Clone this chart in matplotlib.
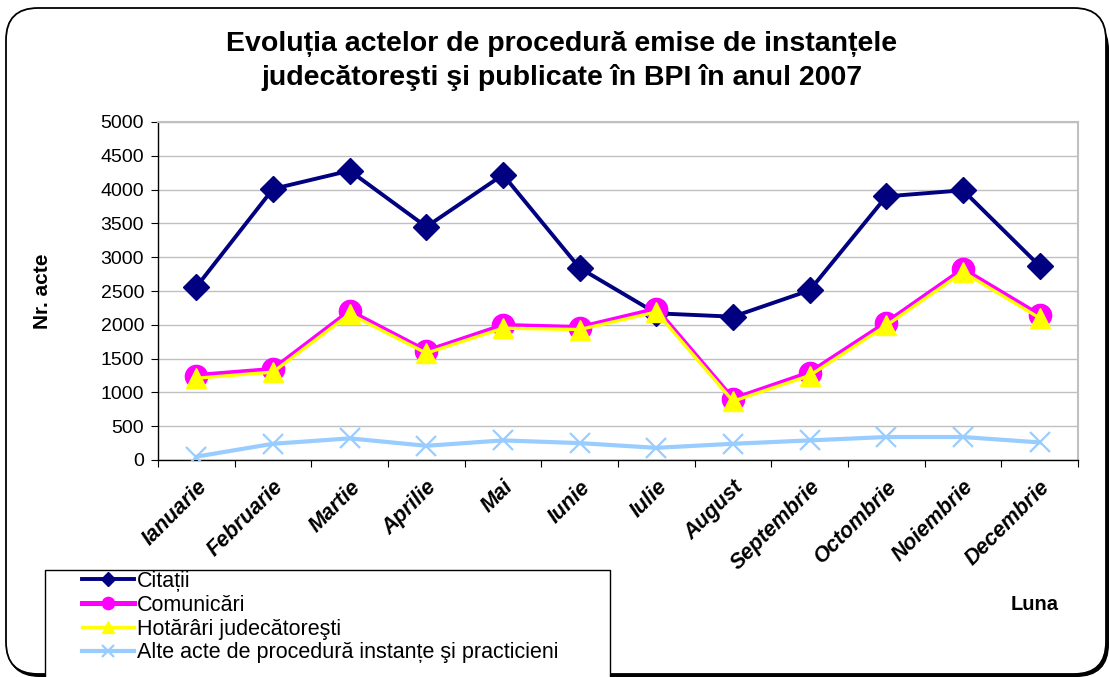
import matplotlib
matplotlib.use("Agg")
import matplotlib.pyplot as plt
from matplotlib.patches import FancyBboxPatch, Rectangle

plt.rcParams['font.family'] = ['Liberation Sans', 'DejaVu Sans']

# date
luni = ['Ianuarie', 'Februarie', 'Martie', 'Aprilie', 'Mai', 'Iunie', 'Iulie',
        'August', 'Septembrie', 'Octombrie', 'Noiembrie', 'Decembrie']
citatii = [2560, 4010, 4280, 3450, 4220, 2840, 2170, 2120, 2510, 3900, 3990, 2870]
comunicari = [1250, 1340, 2200, 1610, 1990, 1960, 2230, 900, 1290, 2030, 2820, 2140]
hotarari = [1210, 1300, 2160, 1580, 1950, 1930, 2190, 870, 1250, 1990, 2780, 2100]
alte = [50, 240, 320, 210, 290, 250, 180, 240, 290, 340, 340, 260]

W, H = 1109, 677
fig = plt.figure(figsize=(W / 100, H / 100), dpi=100, facecolor='w')

# chenar rotunjit cu umbra
tr = fig.dpi_scale_trans
shadow = FancyBboxPatch((0.08, 0.01), 11.0, 6.58, boxstyle='round,pad=0,rounding_size=0.32',
                        transform=tr, facecolor='k', edgecolor='k', lw=1.5, zorder=-3)
frame = FancyBboxPatch((0.06, 0.03), 11.0, 6.66, boxstyle='round,pad=0,rounding_size=0.32',
                       transform=tr, facecolor='w', edgecolor='k', lw=1.3, zorder=-2)
fig.patches.extend([shadow, frame])

ax = fig.add_axes([158 / W, 1 - 460 / H, 920 / W, 338 / H])
x = list(range(len(luni)))

ax.plot(x, citatii, color='#000080', lw=2.8, marker='D', ms=13, label='Citații', zorder=3)
ax.plot(x, comunicari, color='#FF00FF', lw=3.6, marker='o', ms=16, label='Comunicări', zorder=4)
ax.plot(x, hotarari, color='#FFFF00', lw=2.4, marker='^', ms=15, label='Hotărâri judecătoreşti', zorder=5)
ax.plot(x, alte, color='#99CCFF', lw=3.0, marker='x', ms=15, mew=1.6,
        label='Alte acte de procedură instanțe şi practicieni', zorder=6)

ax.set_xlim(-0.5, 11.5)
ax.set_ylim(0, 5000)
ax.set_yticks(range(0, 5001, 500))
ax.grid(axis='y', color='#c0c0c0', lw=1)
ax.set_axisbelow(True)

# ticks intre categorii, etichete pe centre
ax.set_xticks([i - 0.5 for i in range(13)])
ax.set_xticklabels([])
ax.set_xticks(x, minor=True)
ax.set_xticklabels(luni, minor=True, rotation=45, ha='right', va='top',
                   rotation_mode='anchor', fontsize=15.5, fontweight='bold', style='italic')
ax.tick_params(axis='x', which='minor', length=0, pad=12)
ax.tick_params(axis='x', which='major', length=5, direction='out', color='k')
ax.tick_params(axis='y', length=5, direction='out', labelsize=14, pad=5)

for s in ['top', 'right']:
    ax.spines[s].set_color('#c0c0c0')
    ax.spines[s].set_linewidth(1.5)
for s in ['left', 'bottom']:
    ax.spines[s].set_color('k')
    ax.spines[s].set_linewidth(1)

fig.text(562 / W, 1 - 61 / H, 'Evoluția actelor de procedură emise de instanțele\n'
         'judecătoreşti şi publicate în BPI în anul 2007',
         ha='center', va='center', fontsize=20.5, fontweight='bold', linespacing=1.38)
fig.text(42 / W, 1 - 291 / H, 'Nr. acte', rotation=90, ha='center', va='center',
         fontsize=15, fontweight='bold')
fig.text(1035 / W, 1 - 605 / H, 'Luna', ha='center', va='center', fontsize=14.5, fontweight='bold')

# cadrul legendei
fig.patches.append(Rectangle((45 / W, -0.05), 565 / W, 1 - 570 / H + 0.05,
                             transform=fig.transFigure, facecolor='w', edgecolor='k', lw=1, zorder=1))
leg = fig.legend(loc='upper left', bbox_to_anchor=(82 / W, 1 - 571 / H), fontsize=15.5,
                 frameon=False, handlelength=2.4, handletextpad=0.15, labelspacing=0.13,
                 borderpad=0, borderaxespad=0, markerscale=0.55)
leg.set_zorder(2)

fig.savefig('out.png', dpi=100)
